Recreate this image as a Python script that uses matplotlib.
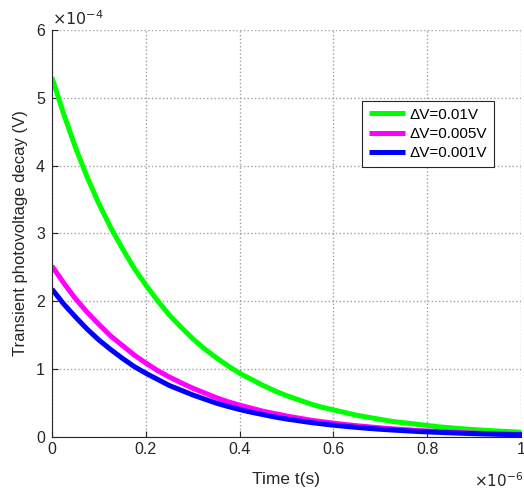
import numpy as np
import matplotlib
matplotlib.use('Agg')
import matplotlib.pyplot as plt
from matplotlib.ticker import FuncFormatter

plt.rcParams['font.family'] = ['Liberation Sans', 'DejaVu Sans']

# time samples (x 1e-6 s) and curves (x 1e-4 V)
t_us = [0.000, 0.025, 0.050, 0.075, 0.100, 0.125, 0.150, 0.175, 0.200, 0.225,
        0.250, 0.275, 0.300, 0.325, 0.350, 0.375, 0.400, 0.425, 0.450, 0.475,
        0.500, 0.525, 0.550, 0.575, 0.600, 0.625, 0.650, 0.675, 0.700, 0.725,
        0.750, 0.775, 0.800, 0.825, 0.850, 0.875, 0.900, 0.925, 0.950, 0.975,
        1.000]
v_001 = [5.30, 4.76, 4.27, 3.83, 3.44, 3.09, 2.78, 2.49, 2.24, 2.01,
         1.80, 1.62, 1.45, 1.30, 1.17, 1.05, 0.94, 0.85, 0.76, 0.68,
         0.61, 0.55, 0.49, 0.44, 0.40, 0.36, 0.32, 0.29, 0.26, 0.23,
         0.21, 0.19, 0.17, 0.15, 0.135, 0.121, 0.109, 0.098, 0.088, 0.079,
         0.071]
v_0005 = [2.52, 2.27, 2.04, 1.84, 1.66, 1.49, 1.35, 1.21, 1.09, 0.98,
          0.885, 0.80, 0.72, 0.65, 0.58, 0.52, 0.47, 0.425, 0.38, 0.345,
          0.31, 0.28, 0.25, 0.226, 0.205, 0.184, 0.166, 0.150, 0.135, 0.121,
          0.109, 0.098, 0.089, 0.080, 0.072, 0.065, 0.058, 0.052, 0.047, 0.042,
          0.038]
v_0001 = [2.18, 1.96, 1.77, 1.59, 1.43, 1.29, 1.16, 1.04, 0.94, 0.85,
          0.76, 0.69, 0.62, 0.56, 0.50, 0.45, 0.405, 0.365, 0.33, 0.295,
          0.265, 0.24, 0.215, 0.194, 0.174, 0.157, 0.141, 0.127, 0.114, 0.103,
          0.093, 0.083, 0.075, 0.068, 0.061, 0.055, 0.049, 0.044, 0.040, 0.036,
          0.032]
labels = ['ΔV=0.01V', 'ΔV=0.005V', 'ΔV=0.001V']
colors = ['#00ff00', '#ff00ff', '#0000ff']

t = np.array(t_us) * 1e-6
series = [np.array(v) * 1e-4 for v in (v_001, v_0005, v_0001)]

fig = plt.figure(figsize=(5.24, 4.91), dpi=100)
ax = fig.add_axes([0.0992, 0.110, 0.895, 0.829])

for y, c, lab in zip(series, colors, labels):
    ax.plot(t, y, color=c, lw=3.6, label=lab, solid_capstyle='butt',
            solid_joinstyle='round')

ax.set_xlim(0, 1e-6)
ax.set_ylim(0, 6e-4)
ax.set_xticks(np.arange(0, 1.01e-6, 0.2e-6))
ax.set_yticks(np.arange(0, 6.1e-4, 1e-4))
ax.xaxis.set_major_formatter(FuncFormatter(lambda v, p: f'{v * 1e6:g}'))
ax.yaxis.set_major_formatter(FuncFormatter(lambda v, p: f'{v * 1e4:g}'))

ax.grid(True, linestyle=':', color='#a0a0a0', lw=1.0)
ax.spines['top'].set_visible(False)
ax.spines['right'].set_visible(False)
for s in ('left', 'bottom'):
    ax.spines[s].set_color('#262626')
ax.tick_params(direction='in', labelsize=11.5, colors='#262626', length=4)
ax.tick_params(axis='y', pad=5)

ax.set_xlabel('Time t(s)', fontsize=12.5, color='#262626', labelpad=11)
ax.set_ylabel('Transient photovoltage decay (V)', fontsize=12, color='#262626', labelpad=6)

ax.text(0.0, 1.005, r'$\times10^{-4}$', transform=ax.transAxes, fontsize=11.5,
        color='#262626', ha='left', va='bottom')
ax.text(1.005, -0.085, r'$\times10^{-6}$', transform=ax.transAxes, fontsize=11,
        color='#262626', ha='right', va='top')

leg = ax.legend(loc='upper left', bbox_to_anchor=(0.661, 0.826), fontsize=11,
                fancybox=False, framealpha=1, edgecolor='#262626',
                handlelength=2.35, borderpad=0.45, labelspacing=0.35,
                handletextpad=0.3, borderaxespad=0)
leg.get_frame().set_linewidth(0.8)

fig.savefig('out.png', dpi=100)
